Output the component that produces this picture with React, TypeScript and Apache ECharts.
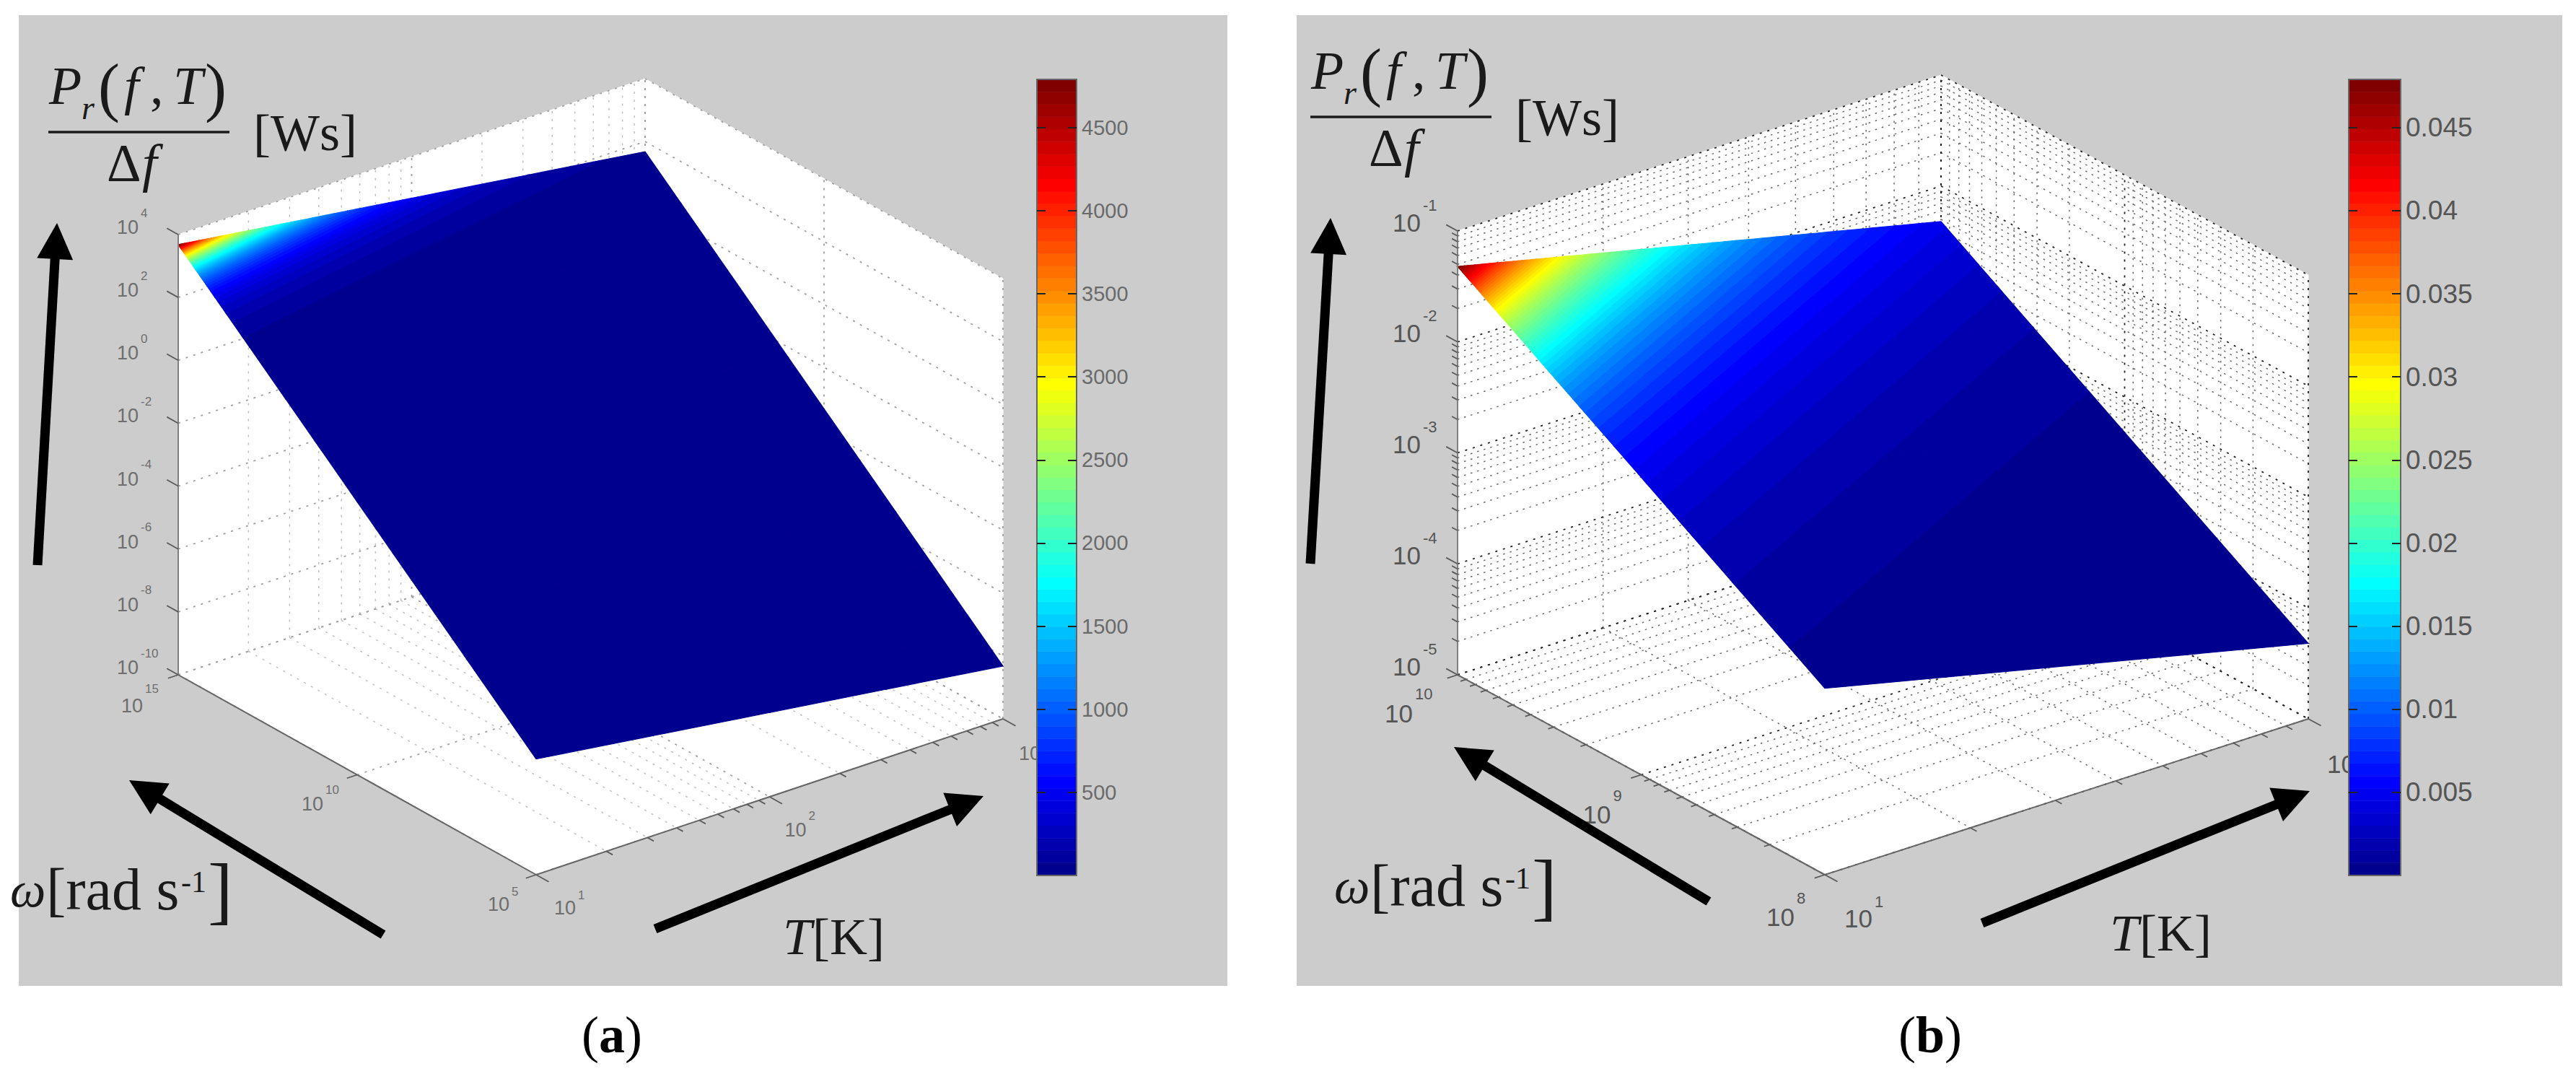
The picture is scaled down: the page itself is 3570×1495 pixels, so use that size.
import React, { useEffect, useRef } from "react";
import * as echarts from "echarts";

// ---- values ----
const tempTicksA = [1, 2, 3];
const omegaTicksA = [15, 10, 5];
const zTicksA = [4, 2, 0, -2, -4, -6, -8, -10];
const tempNodesA = [1, 1.5, 2, 2.5, 3];
const omegaNodesA = [15, 14, 13, 12, 11, 10, 9, 8, 7, 6, 5];
const surfaceA = [
  [3.68, 3.18, 2.68, 2.18, 1.68],
  [2.68, 2.18, 1.68, 1.18, 0.68],
  [1.68, 1.18, 0.68, 0.18, -0.32],
  [0.68, 0.18, -0.32, -0.82, -1.32],
  [-0.32, -0.82, -1.32, -1.82, -2.32],
  [-1.32, -1.82, -2.32, -2.82, -3.32],
  [-2.32, -2.82, -3.32, -3.82, -4.32],
  [-3.32, -3.82, -4.32, -4.82, -5.32],
  [-4.32, -4.82, -5.32, -5.82, -6.32],
  [-5.32, -5.82, -6.32, -6.82, -7.32],
  [-6.32, -6.82, -7.32, -7.82, -8.32],
];
const colorTicksA = [500, 1000, 1500, 2000, 2500, 3000, 3500, 4000, 4500];
const colorMaxA = 4790;

const tempTicksB = [1, 2];
const omegaTicksB = [10, 9, 8];
const zTicksB = [-1, -2, -3, -4, -5];
const tempNodesB = [1, 1.25, 1.5, 1.75, 2];
const omegaNodesB = [10, 9.5, 9, 8.5, 8];
const surfaceB = [
  [-1.32, -1.57, -1.82, -2.07, -2.32],
  [-1.82, -2.07, -2.32, -2.57, -2.82],
  [-2.32, -2.57, -2.82, -3.07, -3.32],
  [-2.82, -3.07, -3.32, -3.57, -3.82],
  [-3.32, -3.57, -3.82, -4.07, -4.32],
];
const colorTicksB = [0.005, 0.01, 0.015, 0.02, 0.025, 0.03, 0.035, 0.04, 0.045];
const colorMaxB = 0.0479;

const logMinorOffsets = [0.301, 0.477, 0.602, 0.699, 0.778, 0.845, 0.903, 0.954];

// ---- layout ----
const W = 3570;
const H = 1495;
const SANS = "Liberation Sans";
const SERIF = "Liberation Serif";

const panelA = {
  bg: [26, 21, 1701, 1366],
  F: [743, 1212], R: [1390, 996], B: [247, 935], height: 610,
  tempTicks: tempTicksA, omegaTicks: omegaTicksA, zTicks: zTicksA,
  tempNodes: tempNodesA, omegaNodes: omegaNodesA, surface: surfaceA,
  tRange: [1, 3], wRange: [5, 15], zRange: [-10, 4],
  colorMax: colorMaxA,
  minorT: true, minorW: false, minorZ: false,
  majorColor: "#a0a0a0", minorColor: "#c0c0c0", majorDash: [3, 8], minorDash: [3, 8],
  digit: 27, exp: 17, labelColor: "#6e6e6e",
  zLabel: { right: 192 - 247, dy: -10, expDy: -30 },
  wLabel: [[-49, 43, -24], [-47, 40, -19], [-37, 41, -18]],
  tLabel: [[55, 46, -18], [51, 46, -20], [52, 48, -20]],
  arrows: [
    [[52, 783], [79, 309]],
    [[531, 1295], [179, 1081]],
    [[908, 1287], [1363, 1103]],
  ],
  math: [0, 0], omega: [0, 0], tk: [0, 0], caption: ["a", 848],
};
const panelB = {
  bg: [1797, 21, 3551, 1366],
  F: [2529, 1212], R: [3199, 996], B: [2020, 935], height: 615,
  tempTicks: tempTicksB, omegaTicks: omegaTicksB, zTicks: zTicksB,
  tempNodes: tempNodesB, omegaNodes: omegaNodesB, surface: surfaceB,
  tRange: [1, 2], wRange: [8, 10], zRange: [-5, -1],
  colorMax: colorMaxB,
  minorT: true, minorW: true, minorZ: true,
  majorColor: "#222222", minorColor: "#6a6a6a", majorDash: [3, 8], minorDash: [2.5, 7],
  digit: 35, exp: 22, labelColor: "#555555",
  zLabel: { right: 1969 - 2020, dy: -12, expDy: -36 },
  wLabel: [[-62, 53, -27], [-42, 55, -26], [-42, 58, -26]],
  tLabel: [[66, 60, -23], [65, 62, -23]],
  arrows: [
    [[1816, 781], [1844, 302]],
    [[2368, 1249], [2015, 1035]],
    [[2747, 1279], [3201, 1096]],
  ],
  math: [1749, -21], omega: [1835, -5], tk: [1839, -5], caption: ["b", 2675],
};

// ---- helpers ----
function project(p: any, t: number, w: number, z: number) {
  const tf = (t - p.tRange[0]) / (p.tRange[1] - p.tRange[0]);
  const wf = (w - p.wRange[0]) / (p.wRange[1] - p.wRange[0]);
  const zf = (z - p.zRange[0]) / (p.zRange[1] - p.zRange[0]);
  return [
    p.F[0] + tf * (p.R[0] - p.F[0]) + wf * (p.B[0] - p.F[0]),
    p.F[1] + tf * (p.R[1] - p.F[1]) + wf * (p.B[1] - p.F[1]) - zf * p.height,
  ];
}

function jet(k: number) {
  const v = (k + 1) / 64;
  const c = (x: number) => Math.round(255 * Math.max(0, Math.min(1, x)));
  const r = c(1.5 - Math.abs(4 * v - 3));
  const g = c(1.5 - Math.abs(4 * v - 2));
  const b = c(1.5 - Math.abs(4 * v - 1));
  return `rgb(${r},${g},${b})`;
}

function clipHalf(poly: number[][], level: number, keepAbove: boolean) {
  const out: number[][] = [];
  for (let i = 0; i < poly.length; i++) {
    const a = poly[i];
    const b = poly[(i + 1) % poly.length];
    const ina = keepAbove ? a[2] >= level : a[2] <= level;
    const inb = keepAbove ? b[2] >= level : b[2] <= level;
    if (ina) out.push(a);
    if (ina !== inb) {
      const s = (level - a[2]) / (b[2] - a[2]);
      out.push([a[0] + s * (b[0] - a[0]), a[1] + s * (b[1] - a[1]), level]);
    }
  }
  return out;
}

function minorsOf(range: number[]) {
  const out: number[] = [];
  for (let e = range[0]; e < range[1]; e++) logMinorOffsets.forEach((o) => out.push(e + o));
  return out;
}

function customOf(name: string, items: any[], z: number, draw: (item: any, api: any) => any) {
  return {
    type: "custom",
    name,
    coordinateSystem: "cartesian2d",
    xAxisIndex: 0,
    yAxisIndex: 0,
    z,
    silent: true,
    clip: false,
    data: items.map((_, i) => [i, i]),
    renderItem: (params: any, api: any) => draw(items[params.dataIndex], api),
  };
}

function lineEl(a: number[], b: number[], api: any, style: any) {
  const p = api.coord(a);
  const q = api.coord(b);
  return { type: "line", shape: { x1: p[0], y1: p[1], x2: q[0], y2: q[1] }, style };
}

function textEl(t: any, api: any) {
  const pt = api.coord([t.x, t.y]);
  return {
    type: "text",
    x: pt[0],
    y: pt[1],
    style: {
      text: t.text,
      fill: t.fill || "#1a1a1a",
      fontSize: t.size,
      fontFamily: t.family || SERIF,
      fontStyle: t.italic ? "italic" : "normal",
      fontWeight: t.bold ? "bold" : "normal",
      align: t.align || "left",
      verticalAlign: "middle",
      textAlign: t.align || "left",
      textVerticalAlign: "middle",
    },
  };
}

function panelSeries(p: any, idx: number) {
  const series: any[] = [];
  const [tMin, tMax] = p.tRange;
  const [wMin, wMax] = p.wRange;
  const [zMin, zMax] = p.zRange;
  const P = (t: number, w: number, z: number) => project(p, t, w, z);

  // panel background
  series.push(customOf(`panel${idx}`, [p.bg], 1, (b, api) => {
    const a = api.coord([b[0], b[1]]);
    const c = api.coord([b[2], b[3]]);
    return { type: "rect", shape: { x: a[0], y: a[1], width: c[0] - a[0], height: c[1] - a[1] }, style: { fill: "#cccccc" } };
  }));

  // box faces
  const faces = [
    [P(tMin, wMax, zMin), P(tMax, wMax, zMin), P(tMax, wMax, zMax), P(tMin, wMax, zMax)],
    [P(tMax, wMax, zMin), P(tMax, wMin, zMin), P(tMax, wMin, zMax), P(tMax, wMax, zMax)],
    [P(tMin, wMax, zMin), P(tMax, wMax, zMin), P(tMax, wMin, zMin), P(tMin, wMin, zMin)],
  ];
  series.push(customOf(`faces${idx}`, faces, 2, (f, api) => ({
    type: "polygon",
    shape: { points: f.map((q: number[]) => api.coord(q)) },
    style: { fill: "#ffffff", stroke: "#ffffff", lineWidth: 1 },
  })));

  // grid lines
  const lines: any[] = [];
  const tLines = (v: number, major: boolean) => {
    lines.push({ a: P(v, wMax, zMin), b: P(v, wMax, zMax), major });
    lines.push({ a: P(v, wMax, zMin), b: P(v, wMin, zMin), major });
  };
  const wLines = (v: number, major: boolean) => {
    lines.push({ a: P(tMax, v, zMin), b: P(tMax, v, zMax), major });
    lines.push({ a: P(tMin, v, zMin), b: P(tMax, v, zMin), major });
  };
  const zLines = (v: number, major: boolean) => {
    lines.push({ a: P(tMin, wMax, v), b: P(tMax, wMax, v), major });
    lines.push({ a: P(tMax, wMax, v), b: P(tMax, wMin, v), major });
  };
  if (p.minorT) minorsOf(p.tRange).forEach((v) => tLines(v, false));
  if (p.minorW) minorsOf(p.wRange).forEach((v) => wLines(v, false));
  if (p.minorZ) minorsOf(p.zRange).forEach((v) => zLines(v, false));
  p.tempTicks.forEach((v: number) => tLines(v, true));
  p.omegaTicks.forEach((v: number) => wLines(v, true));
  p.zTicks.forEach((v: number) => zLines(v, true));
  series.push(customOf(`grid${idx}`, lines, 3, (l, api) =>
    lineEl(l.a, l.b, api, {
      stroke: l.major ? p.majorColor : p.minorColor,
      lineWidth: l.major ? 1.8 : 1.5,
      lineDash: l.major ? p.majorDash : p.minorDash,
    })
  ));

  // surface as filled colour bands
  const polys: any[] = [];
  const thresholds: number[] = [-Infinity];
  for (let k = 1; k < 64; k++) thresholds.push(Math.log10((p.colorMax * k) / 64));
  thresholds.push(Infinity);
  const addTri = (tri: number[][]) => {
    const zs = tri.map((v) => v[2]);
    const lo = Math.min(...zs);
    const hi = Math.max(...zs);
    for (let k = 0; k < 64; k++) {
      if (thresholds[k + 1] < lo || thresholds[k] > hi) continue;
      let poly = tri;
      if (isFinite(thresholds[k])) poly = clipHalf(poly, thresholds[k], true);
      if (poly.length && isFinite(thresholds[k + 1])) poly = clipHalf(poly, thresholds[k + 1], false);
      if (poly.length >= 3) polys.push({ k, pts: poly.map((v) => [v[0], v[1]]) });
    }
  };
  for (let i = 0; i + 1 < p.omegaNodes.length; i++) {
    for (let j = 0; j + 1 < p.tempNodes.length; j++) {
      const node = (a: number, b: number) => {
        const l = p.surface[a][b];
        const q = P(p.tempNodes[b], p.omegaNodes[a], l);
        return [q[0], q[1], l];
      };
      addTri([node(i, j), node(i + 1, j), node(i + 1, j + 1)]);
      addTri([node(i, j), node(i + 1, j + 1), node(i, j + 1)]);
    }
  }
  polys.sort((a, b) => a.k - b.k);
  series.push(customOf(`surface${idx}`, polys, 4, (g, api) => ({
    type: "polygon",
    shape: { points: g.pts.map((q: number[]) => api.coord(q)) },
    style: { fill: jet(g.k), stroke: jet(g.k), lineWidth: 1.2 },
  })));

  // axis lines and tick marks
  const dirW = [p.B[0] - p.F[0], p.B[1] - p.F[1]];
  const dirT = [p.R[0] - p.F[0], p.R[1] - p.F[1]];
  const lw = Math.hypot(dirW[0], dirW[1]);
  const lt = Math.hypot(dirT[0], dirT[1]);
  const marks: any[] = [
    { a: P(tMin, wMax, zMin), b: P(tMin, wMax, zMax), c: "#808080", w: 2 },
    { a: P(tMin, wMax, zMin), b: P(tMin, wMin, zMin), c: "#666666", w: 2 },
    { a: P(tMin, wMin, zMin), b: P(tMax, wMin, zMin), c: "#666666", w: 2 },
  ];
  const off = (q: number[], d: number[], l: number, len: number) => [q[0] + (d[0] / l) * len, q[1] + (d[1] / l) * len];
  const tickC = "#5a5a5a";
  const addTick = (q: number[], d: number[], l: number, len: number) =>
    marks.push({ a: q, b: off(q, d, l, len), c: tickC, w: 1.8 });
  p.zTicks.forEach((v: number) => addTick(P(tMin, wMax, v), dirW, lw, 18));
  if (p.minorZ) minorsOf(p.zRange).forEach((v) => addTick(P(tMin, wMax, v), dirW, lw, 9));
  p.omegaTicks.forEach((v: number) => addTick(P(tMin, v, zMin), dirT, -lt, 15));
  if (p.minorW) minorsOf(p.wRange).forEach((v) => addTick(P(tMin, v, zMin), dirT, -lt, 8));
  p.tempTicks.forEach((v: number) => addTick(P(v, wMin, zMin), dirW, -lw, 20));
  if (p.minorT) minorsOf(p.tRange).forEach((v) => addTick(P(v, wMin, zMin), dirW, -lw, 10));
  series.push(customOf(`marks${idx}`, marks, 5, (m, api) =>
    lineEl(m.a, m.b, api, { stroke: m.c, lineWidth: m.w })
  ));

  // tick labels
  const labels: any[] = [];
  const addLabel = (q: number[], right: number, dy: number, expDy: number, e: number) => {
    labels.push({ text: "10", x: q[0] + right, y: q[1] + dy, size: p.digit, family: SANS, fill: p.labelColor, align: "right" });
    labels.push({ text: String(e), x: q[0] + right + 3, y: q[1] + dy + expDy, size: p.exp, family: SANS, fill: p.labelColor });
  };
  p.zTicks.forEach((v: number) => addLabel(P(tMin, wMax, v), p.zLabel.right, p.zLabel.dy, p.zLabel.expDy - p.zLabel.dy, v));
  p.omegaTicks.forEach((v: number, i: number) => addLabel(P(tMin, v, zMin), p.wLabel[i][0], p.wLabel[i][1], p.wLabel[i][2], v));
  p.tempTicks.forEach((v: number, i: number) => addLabel(P(v, wMin, zMin), p.tLabel[i][0], p.tLabel[i][1], p.tLabel[i][2], v));
  series.push(customOf(`tickLabels${idx}`, labels, 6, textEl));

  // arrows
  series.push(customOf(`arrows${idx}`, p.arrows, 7, (ar, api) => {
    const [tail, tip] = ar;
    const dx = tip[0] - tail[0];
    const dy = tip[1] - tail[1];
    const len = Math.hypot(dx, dy);
    const ux = dx / len;
    const uy = dy / len;
    const head = 50;
    const half = 25;
    const base = [tip[0] - ux * head, tip[1] - uy * head];
    return {
      type: "group",
      children: [
        lineEl(tail, [base[0] + ux * 4, base[1] + uy * 4], api, { stroke: "#000000", lineWidth: 13 }),
        {
          type: "polygon",
          shape: {
            points: [
              api.coord(tip),
              api.coord([base[0] - uy * half, base[1] + ux * half]),
              api.coord([base[0] + uy * half, base[1] - ux * half]),
            ],
          },
          style: { fill: "#000000" },
        },
      ],
    };
  }));

  // quantity labels
  const [mx, my] = p.math;
  const [ox, oy] = p.omega;
  const [kx, ky] = p.tk;
  const texts: any[] = [
    { text: "P", x: 68 + mx, y: 119 + my, size: 74, italic: true },
    { text: "r", x: 113 + mx, y: 149 + my, size: 46, italic: true },
    { text: "(", x: 136 + mx, y: 120 + my, size: 90 },
    { text: "f", x: 172 + mx, y: 119 + my, size: 74, italic: true },
    { text: ",", x: 208 + mx, y: 119 + my, size: 74 },
    { text: "T", x: 240 + mx, y: 119 + my, size: 74, italic: true },
    { text: ")", x: 284 + mx, y: 120 + my, size: 90 },
    { text: "Δ", x: 148 + mx, y: 226 + my, size: 74 },
    { text: "f", x: 197 + mx, y: 226 + my, size: 74, italic: true },
    { text: "[Ws]", x: 351 + mx, y: 184 + my, size: 72 },
    { text: "ω", x: 14 + ox, y: 1232 + oy, size: 70, italic: true },
    { text: "[rad s", x: 64 + ox, y: 1232 + oy, size: 82 },
    { text: "-1", x: 251 + ox, y: 1222 + oy, size: 42 },
    { text: "]", x: 288 + ox, y: 1232 + oy, size: 104 },
    { text: "T", x: 1085 + kx, y: 1298 + ky, size: 72, italic: true },
    { text: "[K]", x: 1126 + kx, y: 1298 + ky, size: 72 },
  ];
  series.push(customOf(`quantities${idx}`, texts, 8, textEl));

  // fraction bar
  series.push(customOf(`fractionBar${idx}`, [[[67 + mx, 183 + my], [318 + mx, 183 + my]]], 8, (b, api) =>
    lineEl(b[0], b[1], api, { stroke: "#1a1a1a", lineWidth: 3.5 })
  ));

  // caption
  const cap = { text: `{r|(}{b|${p.caption[0]}}{r|)}`, x: p.caption[1], y: 1434 };
  series.push(customOf(`caption${idx}`, [cap], 8, (c, api) => {
    const q = api.coord([c.x, c.y]);
    return {
      type: "text",
      x: q[0],
      y: q[1],
      style: {
        text: c.text,
        align: "center",
        verticalAlign: "middle",
        rich: {
          r: { fontSize: 72, fontFamily: SERIF, fill: "#000000" },
          b: { fontSize: 72, fontFamily: SERIF, fontWeight: "bold", fill: "#000000" },
        },
      },
    };
  }));

  return series;
}

function colorBarSeries(max: number, xAxisIndex: number, yAxisIndex: number) {
  const levels = Array.from({ length: 64 }, (_, k) => k);
  return [
    {
      type: "custom",
      name: `colorbar${xAxisIndex}`,
      coordinateSystem: "cartesian2d",
      xAxisIndex,
      yAxisIndex,
      z: 9,
      silent: true,
      data: levels.map((k) => [0, (max * k) / 64]),
      renderItem: (params: any, api: any) => {
        const k = params.dataIndex;
        const a = api.coord([0, (max * (k + 1)) / 64]);
        const b = api.coord([1, (max * k) / 64]);
        return {
          type: "rect",
          shape: { x: a[0], y: a[1], width: b[0] - a[0], height: b[1] - a[1] },
          style: { fill: jet(k), stroke: jet(k), lineWidth: 0.6 },
        };
      },
    },
    {
      type: "custom",
      name: `colorbarFrame${xAxisIndex}`,
      coordinateSystem: "cartesian2d",
      xAxisIndex,
      yAxisIndex,
      z: 10,
      silent: true,
      data: [[0, 0]],
      renderItem: (_: any, api: any) => {
        const a = api.coord([0, max]);
        const b = api.coord([1, 0]);
        return {
          type: "rect",
          shape: { x: a[0], y: a[1], width: b[0] - a[0], height: b[1] - a[1] },
          style: { fill: "none", stroke: "#666666", lineWidth: 2 },
        };
      },
    },
  ];
}

function colorAxis(gridIndex: number, max: number, ticks: number[], position: string, labelled: boolean, size: number, color: string) {
  return {
    type: "value",
    gridIndex,
    position,
    min: 0,
    max,
    z: 11,
    splitLine: { show: false },
    axisLine: { show: false },
    axisTick: { show: true, inside: true, length: 12, customValues: ticks, lineStyle: { color: "#222222", width: 2 } },
    axisLabel: {
      show: labelled,
      customValues: ticks,
      margin: 7,
      fontSize: size,
      fontFamily: SANS,
      color,
      formatter: (v: number) => String(v),
    },
  };
}

export default function App() {
  const ref = useRef<HTMLDivElement>(null);
  useEffect(() => {
    if (!ref.current) return;
    document.body.style.margin = "0";
    const chart = echarts.init(ref.current, undefined, { renderer: "svg" });
    const unit = { type: "value", min: 0, max: 1, show: false };
    chart.setOption({
      animation: false,
      backgroundColor: "#ffffff",
      tooltip: { show: false },
      grid: [
        { left: 0, top: 0, width: W, height: H },
        { left: 1437, top: 110, width: 55, height: 1103 },
        { left: 3255, top: 110, width: 72, height: 1103 },
      ],
      xAxis: [
        { type: "value", gridIndex: 0, min: 0, max: W, show: false },
        { ...unit, gridIndex: 1 },
        { ...unit, gridIndex: 2 },
      ],
      yAxis: [
        { type: "value", gridIndex: 0, min: 0, max: H, inverse: true, show: false },
        colorAxis(1, colorMaxA, colorTicksA, "left", false, 28, "#666666"),
        colorAxis(1, colorMaxA, colorTicksA, "right", true, 29, "#6a6a6a"),
        colorAxis(2, colorMaxB, colorTicksB, "left", false, 36, "#555555"),
        colorAxis(2, colorMaxB, colorTicksB, "right", true, 37, "#555555"),
      ],
      series: [
        ...panelSeries(panelA, 0),
        ...panelSeries(panelB, 1),
        ...colorBarSeries(colorMaxA, 1, 1),
        ...colorBarSeries(colorMaxB, 2, 3),
      ],
    });
    return () => chart.dispose();
  }, []);
  return <div ref={ref} style={{ position: "absolute", left: 0, top: 0, width: W, height: H }} />;
}
